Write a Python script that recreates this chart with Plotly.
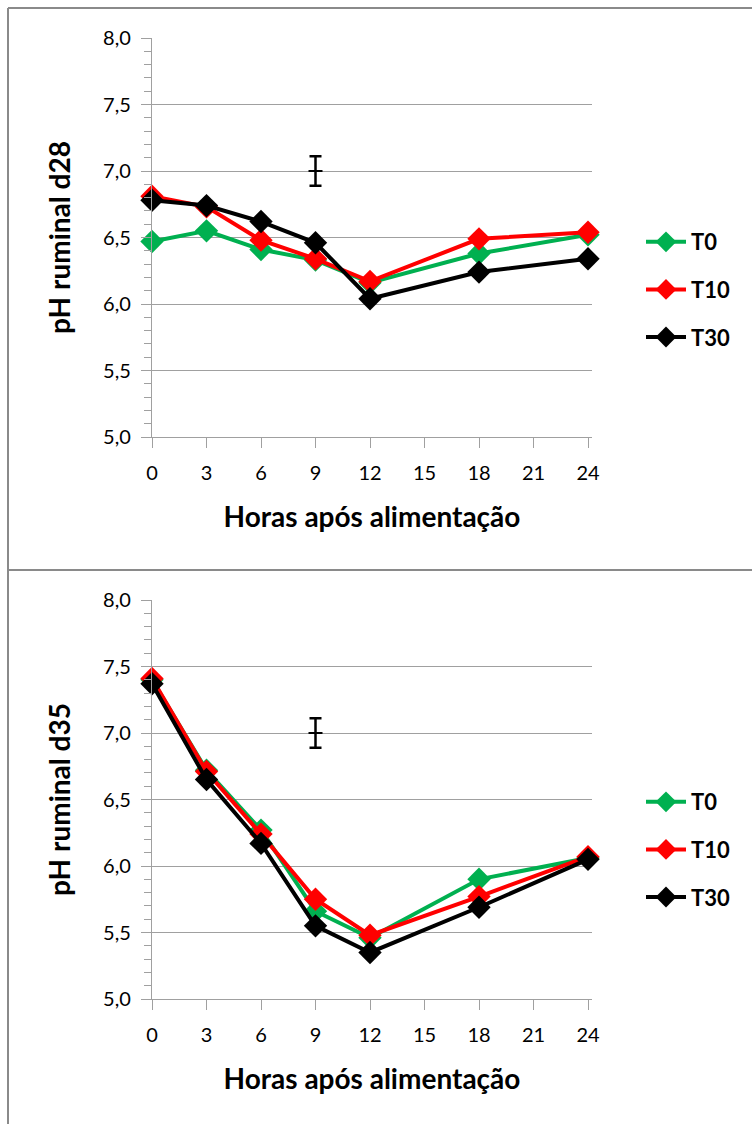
import plotly.graph_objects as go

hours = [0, 3, 6, 9, 12, 18, 24]
series = ["T0", "T10", "T30"]
colors = {"T0": "#00B050", "T10": "#FF0000", "T30": "#000000"}

d28_T0 = [6.47, 6.55, 6.41, 6.33, 6.16, 6.38, 6.52]
d28_T10 = [6.81, 6.73, 6.48, 6.34, 6.17, 6.49, 6.54]
d28_T30 = [6.78, 6.74, 6.62, 6.46, 6.04, 6.24, 6.34]

d35_T0 = [7.40, 6.72, 6.27, 5.66, 5.46, 5.90, 6.06]
d35_T10 = [7.41, 6.71, 6.24, 5.75, 5.48, 5.77, 6.07]
d35_T30 = [7.37, 6.65, 6.17, 5.55, 5.35, 5.69, 6.05]

err_x = [9]
err_y = [7.0]
err_half = [0.11]

y_ticks = [5.0, 5.5, 6.0, 6.5, 7.0, 7.5, 8.0]
x_ticks = [0, 3, 6, 9, 12, 15, 18, 21, 24]

FONT = "Lato"
W, H = 752, 1124

fig = go.Figure()

panels = [
    ("x", "y", "legend", {"T0": d28_T0, "T10": d28_T10, "T30": d28_T30}),
    ("x2", "y2", "legend2", {"T0": d35_T0, "T10": d35_T10, "T30": d35_T30}),
]

for xa, ya, leg, data in panels:
    for s in series:
        fig.add_trace(go.Scatter(
            x=hours, y=data[s], name=s, xaxis=xa, yaxis=ya, legend=leg,
            legendgroup=s + leg,
            mode="lines+markers",
            line=dict(color=colors[s], width=4),
            marker=dict(symbol="diamond", size=18, color=colors[s]),
            cliponaxis=False,
        ))
    fig.add_trace(go.Scatter(
        x=err_x, y=err_y, xaxis=xa, yaxis=ya, showlegend=False,
        mode="markers",
        marker=dict(symbol="line-ew", size=10, line=dict(color="black", width=2)),
        error_y=dict(type="data", array=err_half, symmetric=True,
                     color="black", thickness=2.5, width=6),
    ))

def px_dom_y(top, bottom):
    return [1 - bottom / H, 1 - top / H]

xdom = [152 / W, 592 / W]
xr = [0, 24 * 440 / 436]

axis_font = dict(family=FONT, size=20, color="#000")
title_font = dict(family=FONT, size=28, color="#000", weight="bold")

for i, (top, bottom, ytitle) in enumerate([(38, 437, "pH ruminal d28"), (600, 999, "pH ruminal d35")]):
    sfx = "" if i == 0 else str(i + 1)
    fig.layout["xaxis" + sfx] = dict(
        domain=xdom, range=xr, anchor="y" + sfx, automargin=False,
        tickmode="array", tickvals=x_ticks, ticktext=[str(t) for t in x_ticks],
        ticks="outside", ticklen=10, tickcolor="#a0a0a0", tickwidth=1,
        showline=True, linecolor="#a0a0a0", linewidth=1.3,
        showgrid=False, zeroline=False,
        tickfont=axis_font, ticklabelstandoff=8,
        title=dict(text="Horas após alimentação", font=title_font, standoff=24),
    )
    fig.layout["yaxis" + sfx] = dict(
        domain=px_dom_y(top, bottom), range=[5.0, 8.0], anchor="x" + sfx, automargin=False,
        tickmode="array", tickvals=y_ticks, ticktext=[f"{v:.1f}".replace(".", ",") for v in y_ticks],
        ticks="outside", ticklen=10, tickcolor="#a0a0a0", tickwidth=1,
        minor=dict(dtick=0.1, tick0=5.0, ticks="outside", ticklen=7, tickcolor="#a0a0a0", showgrid=False),
        showline=True, linecolor="#a0a0a0", linewidth=1.3,
        showgrid=True, gridcolor="#a0a0a0", gridwidth=1.3,
        zeroline=False,
        tickfont=axis_font, ticklabelstandoff=6,
        title=dict(text=ytitle, font=title_font, standoff=24),
    )

leg_common = dict(
    font=dict(family=FONT, size=22, color="#000", weight="bold"),
    bgcolor="rgba(0,0,0,0)", tracegroupgap=16, itemwidth=40,
    xanchor="left", yanchor="top", traceorder="grouped",
)
fig.update_layout(
    legend=dict(x=641 / W, y=1 - 221 / H, **leg_common),
    legend2=dict(x=641 / W, y=1 - 781 / H, **leg_common),
)

border = dict(color="#8a8a8a", width=2)
fig.update_layout(shapes=[
    dict(type="line", xref="paper", yref="paper", x0=8 / W, x1=1.0, y0=1 - 8 / H, y1=1 - 8 / H, line=border),
    dict(type="line", xref="paper", yref="paper", x0=8 / W, x1=8 / W, y0=0, y1=1 - 8 / H, line=border),
    dict(type="line", xref="paper", yref="paper", x0=8 / W, x1=1.0, y0=1 - 570 / H, y1=1 - 570 / H, line=border),
])

fig.update_layout(
    width=W, height=H,
    margin=dict(l=0, r=0, t=0, b=0),
    paper_bgcolor="white", plot_bgcolor="white",
    font=dict(family=FONT),
    showlegend=True,
)

fig.write_html(
    "out.html",
    config={"displayModeBar": False},
    post_script="document.body.style.margin='0';document.body.style.overflow='hidden';",
)
